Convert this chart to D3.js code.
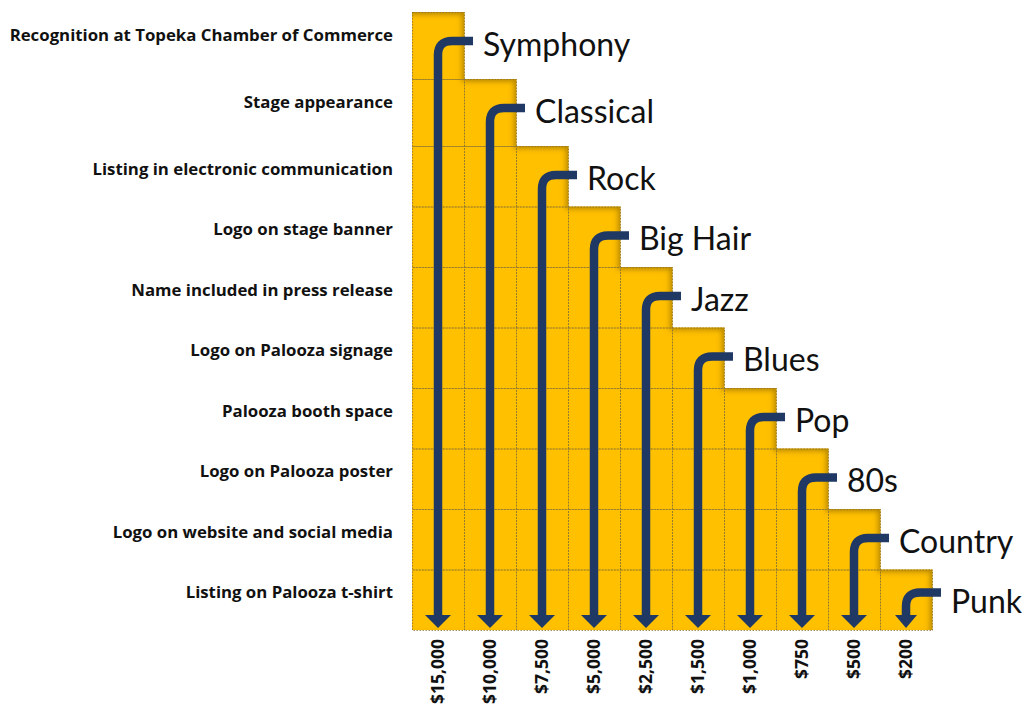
<!DOCTYPE html>
<html>
<head>
<meta charset="utf-8">
<script src="https://cdn.jsdelivr.net/npm/d3@7"></script>
<style>
  body { margin: 0; background: #fff; }
  svg { display: block; }
</style>
</head>
<body>
<div id="chart"></div>
<script>
// sponsorship tiers (columns), their prices, and the benefit rows
const tiers = ["Symphony", "Classical", "Rock", "Big Hair", "Jazz", "Blues", "Pop", "80s", "Country", "Punk"];
const amounts = ["$15,000", "$10,000", "$7,500", "$5,000", "$2,500", "$1,500", "$1,000", "$750", "$500", "$200"];
const benefits = [
    "Recognition at Topeka Chamber of Commerce",
    "Stage appearance",
    "Listing in electronic communication",
    "Logo on stage banner",
    "Name included in press release",
    "Logo on Palooza signage",
    "Palooza booth space",
    "Logo on Palooza poster",
    "Logo on website and social media",
    "Listing on Palooza t-shirt"
];
// first benefit row each tier gets (tier i gets rows i..end)
const firstRow = [0, 1, 2, 3, 4, 5, 6, 7, 8, 9];

const width = 1025, height = 713;
const gold = "#ffc000", navy = "#1f3864";

// x: one band per tier
const x = d3.scaleBand()
    .domain(tiers)
    .range([412, 932])
    .padding(0);

// y: row index -> pixel (top two rows a bit taller)
const y = d3.scaleLinear()
    .domain([0, 2, benefits.length])
    .range([12, 146, 630]);

const rowH = i => y(i + 1) - y(i);
const bottom = y(benefits.length);

const svg = d3.create("svg")
    .attr("width", width)
    .attr("height", height)
    .style("font-family", "'Open Sans', Lato, sans-serif");

// inner shadow on the stepped area
const defs = svg.append("defs");
const f = defs.append("filter").attr("id", "inner")
    .attr("x", "-10%").attr("y", "-10%").attr("width", "120%").attr("height", "120%");
f.append("feComponentTransfer").attr("in", "SourceAlpha").attr("result", "inv")
    .append("feFuncA").attr("type", "table").attr("tableValues", "1 0");
f.append("feOffset").attr("in", "inv").attr("dx", -3).attr("dy", 3).attr("result", "off");
f.append("feGaussianBlur").attr("in", "off").attr("stdDeviation", 2.5).attr("result", "blur");
f.append("feFlood").attr("flood-color", "#6b4e00").attr("flood-opacity", 0.6).attr("result", "col");
f.append("feComposite").attr("in", "col").attr("in2", "blur").attr("operator", "in").attr("result", "sh");
f.append("feComposite").attr("in", "sh").attr("in2", "SourceAlpha").attr("operator", "in").attr("result", "shIn");
const merge = f.append("feMerge");
merge.append("feMergeNode").attr("in", "SourceGraphic");
merge.append("feMergeNode").attr("in", "shIn");

// stepped gold bars
const bars = svg.append("g").attr("filter", "url(#inner)");
bars.selectAll("rect")
    .data(tiers)
    .join("rect")
    .attr("x", d => x(d))
    .attr("y", (d, i) => y(firstRow[i]))
    .attr("width", x.bandwidth() + 0.5)
    .attr("height", (d, i) => bottom - y(firstRow[i]))
    .attr("fill", gold);

// dotted grid cells
const cells = [];
tiers.forEach((t, i) => {
    for (let r = firstRow[i]; r < benefits.length; r++) cells.push({ t, r });
});
svg.append("g")
    .selectAll("rect")
    .data(cells)
    .join("rect")
    .attr("x", d => x(d.t) + 0.5)
    .attr("y", d => y(d.r) + 0.5)
    .attr("width", x.bandwidth())
    .attr("height", d => rowH(d.r))
    .attr("fill", "none")
    .attr("stroke", "#8a7434")
    .attr("stroke-width", 0.8)
    .attr("stroke-dasharray", "1.5,1.5");

// benefit labels on the left
svg.append("g")
    .selectAll("text")
    .data(benefits)
    .join("text")
    .attr("x", 393)
    .attr("y", (d, i) => y(i) + 28.5)
    .attr("text-anchor", "end")
    .attr("font-size", 16.8)
    .attr("font-weight", 700)
    .attr("fill", "#111")
    .text(d => d);

// arrows
const headY = bottom - 15, tipY = bottom - 2, r = 14;
const arrows = svg.append("g");
tiers.forEach((t, i) => {
    const cx = x(t) + x.bandwidth() / 2;
    const right = x(t) + x.bandwidth();
    const row = firstRow[i];
    const yh = y(row) + (i === tiers.length - 1 ? 23 : 29);
    const hw = i === tiers.length - 1 ? 11 : 13;

    arrows.append("path")
        .attr("d", `M${right + 9},${yh} H${cx + r} Q${cx},${yh} ${cx},${yh + r} V${headY + 1}`)
        .attr("fill", "none")
        .attr("stroke", navy)
        .attr("stroke-width", 8.5);

    arrows.append("path")
        .attr("d", `M${cx - hw},${headY} L${cx + hw},${headY} L${cx},${tipY} Z`)
        .attr("fill", navy);

    // tier name
    svg.append("text")
        .attr("x", right + 19)
        .attr("y", y(row) + 43.5)
        .attr("font-family", "Lato, sans-serif")
        .attr("font-size", 32)
        .attr("fill", "#111")
        .text(t);
});

// amounts under each column, rotated
svg.append("g")
    .selectAll("text")
    .data(tiers)
    .join("text")
    .attr("transform", d => `translate(${x(d) + x.bandwidth() / 2},${bottom + 9}) rotate(-90)`)
    .attr("dy", "0.35em")
    .attr("text-anchor", "end")
    .attr("font-size", 17.5)
    .attr("font-weight", 700)
    .attr("fill", "#111")
    .text((d, i) => amounts[i]);

document.getElementById("chart").appendChild(svg.node());
</script>
</body>
</html>
